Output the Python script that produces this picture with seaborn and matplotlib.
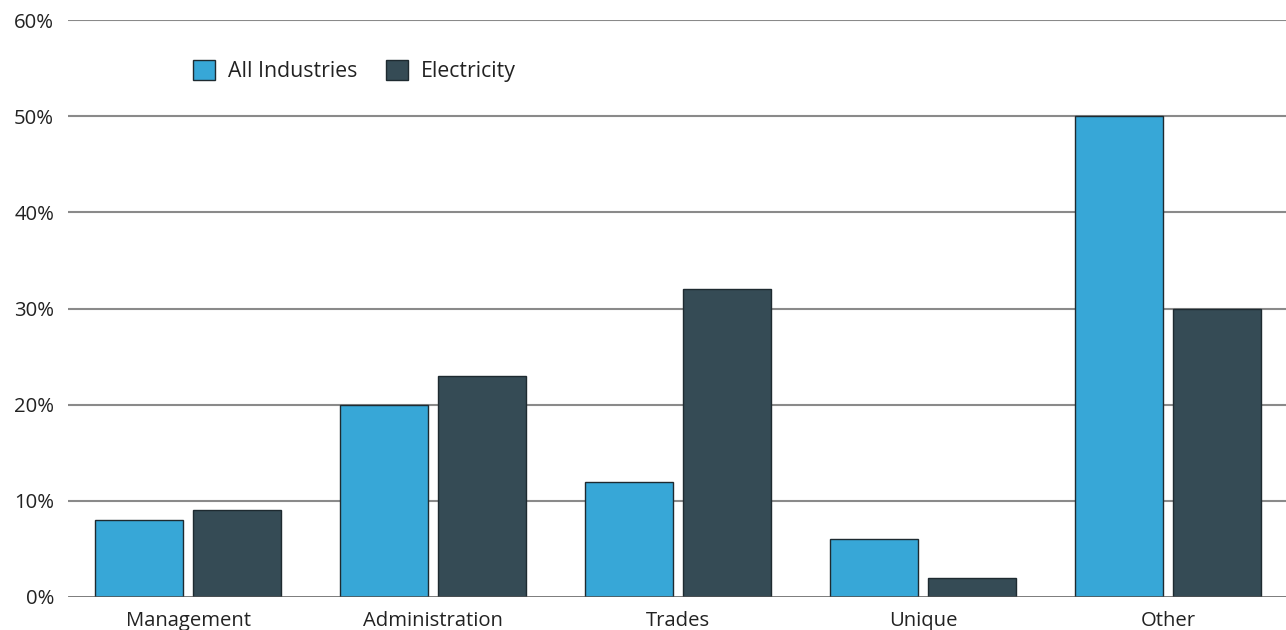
import matplotlib
matplotlib.use("Agg")
import matplotlib.pyplot as plt
import seaborn as sns
import pandas as pd
from matplotlib.ticker import PercentFormatter

# Share of occupations by group
categories = ["Management", "Administration", "Trades", "Unique", "Other"]
all_industries = [8, 20, 12, 6, 50]
electricity = [9, 23, 32, 2, 30]
series_names = ["All Industries", "Electricity"]
y_ticks = [0, 10, 20, 30, 40, 50, 60]

df = pd.DataFrame({
    "category": categories * 2,
    "series": [series_names[0]] * len(categories) + [series_names[1]] * len(categories),
    "value": all_industries + electricity,
})

sns.set_theme(style="white")
plt.rcParams["font.family"] = ["Open Sans", "DejaVu Sans"]

fig = plt.figure(figsize=(12.86, 6.30), dpi=100)
ax = fig.add_axes([68 / 1286, 1 - 597 / 630, 1 - 68 / 1286, (597 - 20) / 630])

palette = {"All Industries": "#37a7d7", "Electricity": "#354b55"}

# grid lines behind the bars
for t in y_ticks[1:]:
    ax.axhline(t, color="#8a8a8a", lw=1.5, zorder=0)

sns.barplot(data=df, x="category", y="value", hue="series", order=categories,
            hue_order=series_names, palette=palette, width=0.8, gap=0.1,
            edgecolor="#1e2a30", linewidth=1.0, saturation=1, ax=ax, zorder=2)

ax.axhline(0, color="#555555", lw=1.8, zorder=3)

ax.set_ylim(0, 60)
ax.set_xlim(-0.49, 4.482)
ax.set_yticks(y_ticks)
ax.yaxis.set_major_formatter(PercentFormatter(decimals=0))
ax.set_xlabel("")
ax.set_ylabel("")
ax.tick_params(axis="both", length=0, labelsize=14.6, labelcolor="#222222")
ax.tick_params(axis="y", pad=10)
ax.tick_params(axis="x", pad=10)
for s in ax.spines.values():
    s.set_visible(False)

leg = ax.legend(loc="upper left", bbox_to_anchor=(125 / 1218, 1 - 40 / 577),
                ncol=2, frameon=False, fontsize=15.3, handlelength=1.05,
                handleheight=1.1, handletextpad=0.6, columnspacing=1.35,
                borderaxespad=0, borderpad=0)
for h in leg.legend_handles:
    h.set_edgecolor("#1e2a30")
    h.set_linewidth(1.0)
for t in leg.get_texts():
    t.set_color("#222222")

fig.savefig("out.png", dpi=100)
